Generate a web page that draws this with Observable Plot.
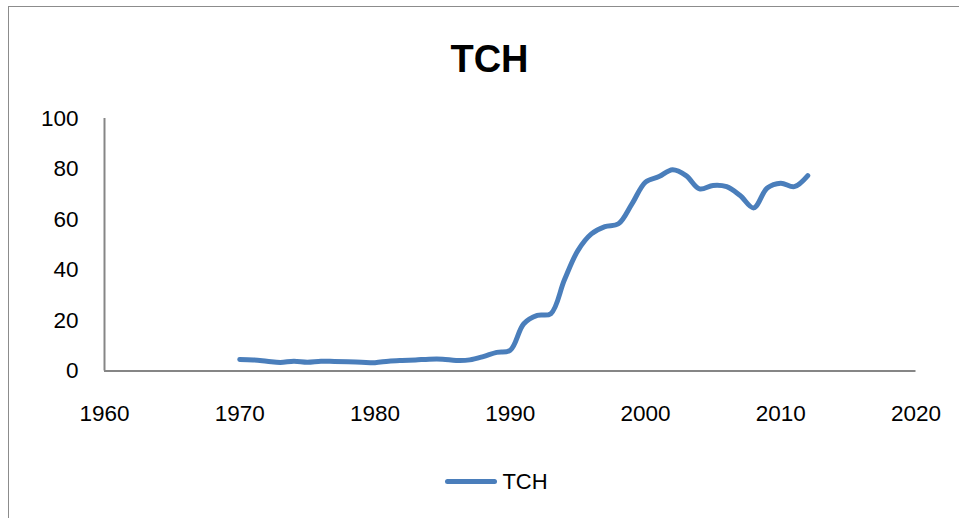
<!DOCTYPE html>
<html>
<head>
<meta charset="utf-8">
<script src="https://cdn.jsdelivr.net/npm/d3@7"></script>
<script src="https://cdn.jsdelivr.net/npm/@observablehq/plot@0.6"></script>
<style>
  html, body { margin: 0; padding: 0; background: #fff; }
  body { width: 959px; height: 518px; overflow: hidden; position: relative; font-family: "Liberation Sans", Arial, sans-serif; }
  #frame { position: absolute; left: 8px; top: 6px; width: 970px; height: 530px; border-left: 1.5px solid #8c8c8c; border-top: 1.5px solid #8c8c8c; pointer-events: none; }
  #title { height: 95px; line-height: 1; box-sizing: border-box; padding-top: 40px; padding-left: 20px; text-align: center; font-weight: bold; font-size: 38px; color: #000; }
  #legend { height: 73px; display: flex; justify-content: center; align-items: center; padding-left: 34px; box-sizing: border-box; font-size: 22px; color: #000; }
  #legend .sw { width: 52px; height: 5px; border-radius: 3px; background: #4a7ebb; margin-right: 5px; }
</style>
</head>
<body>
<div id="frame"></div>
<div id="title">TCH</div>
<div id="chart"></div>
<div id="legend"><span class="sw"></span><span>TCH</span></div>
<script>
const years = [1970,1971,1972,1973,1974,1975,1976,1977,1978,1979,1980,1981,1982,1983,1984,1985,1986,1987,1988,1989,1990,1991,1992,1993,1994,1995,1996,1997,1998,1999,2000,2001,2002,2003,2004,2005,2006,2007,2008,2009,2010,2011,2012];
const tch = [4.6,4.4,3.9,3.4,3.9,3.5,3.9,3.8,3.7,3.5,3.3,3.9,4.2,4.4,4.7,4.7,4.2,4.4,5.7,7.4,8.2,18.7,22,22.7,36,47.7,54.3,57.2,58.3,66.2,74.8,77,79.7,77.4,72.1,73.5,73,69.5,64.6,72.5,74.4,73,77.4];
const xTicks = [1960,1970,1980,1990,2000,2010,2020];
const yTicks = [0,20,40,60,80,100];

const data = years.map((y, i) => ({year: y, value: tch[i]}));

const chart = Plot.plot({
  width: 959,
  height: 350,
  marginLeft: 104,
  marginRight: 43.5,
  marginTop: 23,
  marginBottom: 74.5,
  style: {fontFamily: "'Liberation Sans', Arial, sans-serif", fontSize: "22.5px", color: "#000", background: "#fff", overflow: "visible"},
  x: {domain: [1960, 2020], ticks: xTicks, tickFormat: d => String(d), tickSize: 0, tickPadding: 34, label: null},
  y: {domain: [0, 100], ticks: yTicks, tickSize: 0, tickPadding: 26, label: null},
  marks: [
    Plot.ruleY([0], {stroke: "#868686", strokeWidth: 2}),
    Plot.ruleX([1960], {stroke: "#868686", strokeWidth: 2}),
    Plot.lineY(data, {x: "year", y: "value", stroke: "#4a7ebb", strokeWidth: 5, curve: "catmull-rom", strokeLinecap: "round", strokeLinejoin: "round"})
  ]
});
document.getElementById("chart").appendChild(chart);
</script>
</body>
</html>
